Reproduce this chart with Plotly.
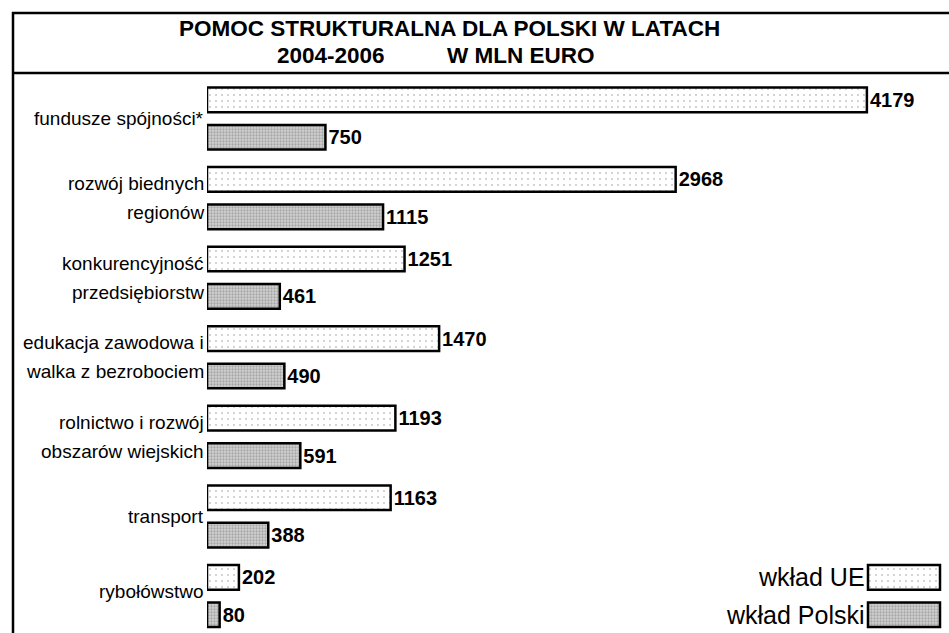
import plotly.graph_objects as go

categories = [
    ("fundusze spójności*", None),
    ("rozwój biednych", "regionów"),
    ("konkurencyjność", "przedsiębiorstw"),
    ("edukacja zawodowa i", "walka z bezrobociem"),
    ("rolnictwo i rozwój", "obszarów wiejskich"),
    ("transport", None),
    ("rybołówstwo", None),
]
wklad_ue = [4179, 2968, 1251, 1470, 1193, 1163, 202]
wklad_polski = [750, 1115, 461, 490, 591, 388, 80]
legend_labels = ["wkład UE", "wkład Polski"]
title_line1 = "POMOC STRUKTURALNA DLA POLSKI W LATACH"
title_years = "2004-2006"
title_unit = "W MLN EURO"

W, H = 949, 633
L, R, T, B = 207, 0, 80, 0
XMAX = 4699
OFF = 0.235
BW = 0.31

FONT = "Arial, 'Liberation Sans', sans-serif"

idx = list(range(len(categories)))
y_ue = [i - OFF for i in idx]
y_pl = [i + OFF for i in idx]

ue_pattern = dict(shape=".", fgcolor="#8c8c8c", bgcolor="white", size=6, solidity=0.09)
pl_pattern = dict(shape=".", fgcolor="#7a7a7a", bgcolor="#d2d2d2", size=3, solidity=0.45)
line = dict(color="black", width=2.5)

fig = go.Figure()
fig.add_trace(go.Bar(
    x=wklad_ue, y=y_ue, orientation="h", width=BW,
    marker=dict(color="white", pattern=ue_pattern, line=line),
    text=[str(v) for v in wklad_ue], textposition="outside",
    textfont=dict(family=FONT, size=20, color="black", weight="bold"),
    cliponaxis=False, showlegend=False, name=legend_labels[0],
))
fig.add_trace(go.Bar(
    x=wklad_polski, y=y_pl, orientation="h", width=BW,
    marker=dict(color="#d2d2d2", pattern=pl_pattern, line=line),
    text=[str(v) for v in wklad_polski], textposition="outside",
    textfont=dict(family=FONT, size=20, color="black", weight="bold"),
    cliponaxis=False, showlegend=False, name=legend_labels[1],
))

# legend keys (drawn as boxes at the bottom right)
leg_base = 4186
leg_len = 456
last = idx[-1]
fig.add_trace(go.Bar(
    x=[leg_len], y=[last - OFF], base=[leg_base], orientation="h", width=BW,
    marker=dict(color="white", pattern=ue_pattern, line=line),
    showlegend=False, hoverinfo="skip",
))
fig.add_trace(go.Bar(
    x=[leg_len], y=[last + OFF], base=[leg_base], orientation="h", width=BW,
    marker=dict(color="#d2d2d2", pattern=pl_pattern, line=line),
    showlegend=False, hoverinfo="skip",
))

annotations = []
for lab, yy in zip(legend_labels, [last - OFF, last + OFF]):
    annotations.append(dict(x=leg_base, y=yy, xref="x", yref="y", text=lab,
                            showarrow=False, xanchor="right", yanchor="middle",
                            xshift=-1, font=dict(family=FONT, size=25, color="black")))

CF = 19
for i, (l1, l2) in enumerate(categories):
    if l2 is None:
        yy = i - 0.06 if i == len(categories) - 1 else i
        annotations.append(dict(x=0, y=yy, xref="x", yref="y", text=l1, showarrow=False,
                                xanchor="right", yanchor="middle", xshift=-1,
                                font=dict(family=FONT, size=CF, color="black")))
    else:
        annotations.append(dict(x=0, y=i - 0.18, xref="x", yref="y", text=l1, showarrow=False,
                                xanchor="right", yanchor="middle", xshift=-1,
                                font=dict(family=FONT, size=CF, color="black")))
        annotations.append(dict(x=0, y=i + 0.18, xref="x", yref="y", text=l2, showarrow=False,
                                xanchor="right", yanchor="middle", xshift=-1,
                                font=dict(family=FONT, size=CF, color="black")))

pw = W - L - R
ph = H - T - B
def px(xp):
    return (xp - L) / pw
def py(yp):
    return (H - B - yp) / ph

TF = 22.5
annotations.append(dict(x=px(449), y=py(28), xref="paper", yref="paper", text=title_line1,
                        showarrow=False, xanchor="center", yanchor="middle",
                        font=dict(family=FONT, size=TF, color="black", weight="bold")))
annotations.append(dict(x=px(331), y=py(55), xref="paper", yref="paper", text=title_years,
                        showarrow=False, xanchor="center", yanchor="middle",
                        font=dict(family=FONT, size=TF, color="black", weight="bold")))
annotations.append(dict(x=px(520), y=py(55), xref="paper", yref="paper", text=title_unit,
                        showarrow=False, xanchor="center", yanchor="middle",
                        font=dict(family=FONT, size=TF, color="black", weight="bold")))

shapes = [
    dict(type="line", xref="paper", yref="paper", x0=px(13), x1=px(13), y0=py(12), y1=py(640),
         line=dict(color="black", width=2.5)),
    dict(type="line", xref="paper", yref="paper", x0=px(12), x1=px(955), y0=py(13), y1=py(13),
         line=dict(color="black", width=2.5)),
    dict(type="line", xref="paper", yref="paper", x0=px(12), x1=px(955), y0=py(73), y1=py(73),
         line=dict(color="black", width=2.5)),
]

fig.update_layout(
    width=W, height=H,
    margin=dict(l=L, r=R, t=T, b=B, pad=0),
    paper_bgcolor="white", plot_bgcolor="white",
    barmode="overlay",
    xaxis=dict(range=[0, XMAX], visible=False, showgrid=False, zeroline=False),
    yaxis=dict(range=[6.464, -0.484], visible=False, showgrid=False, zeroline=False),
    annotations=annotations, shapes=shapes,
    font=dict(family=FONT, color="black"),
)

fig.write_html("out.html", config={"displayModeBar": False},
               post_script="document.body.style.margin='0';document.body.style.overflow='hidden';")
